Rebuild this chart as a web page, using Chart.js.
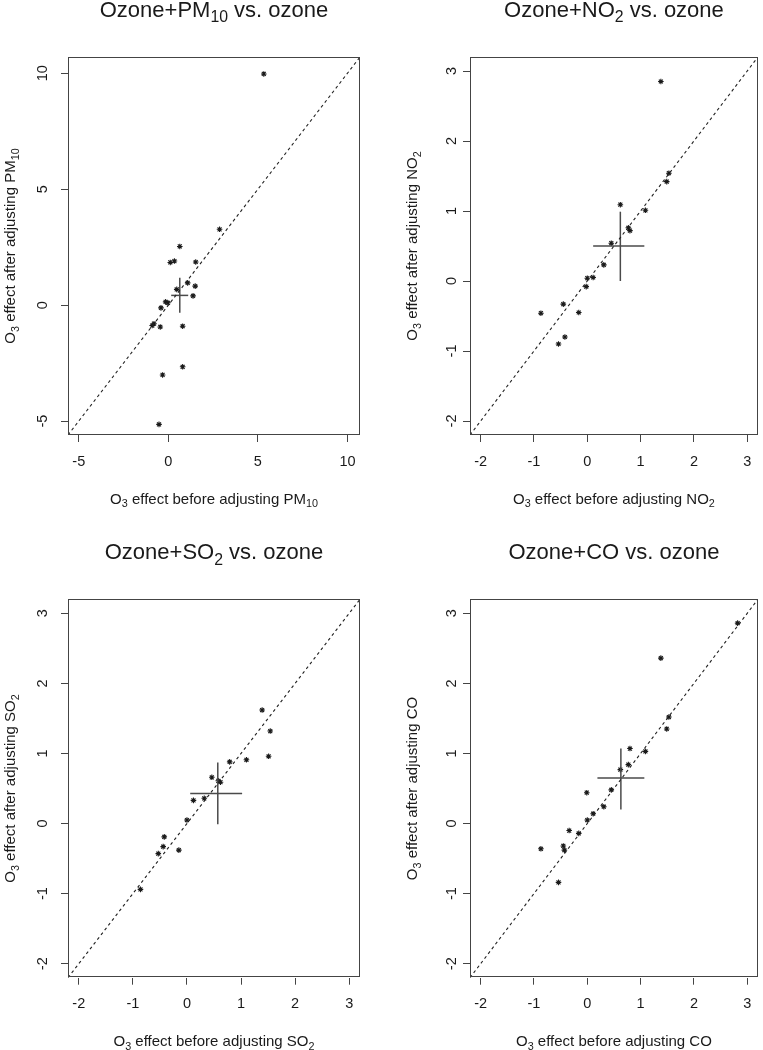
<!DOCTYPE html>
<html>
<head>
<meta charset="utf-8">
<script src="https://cdn.jsdelivr.net/npm/chart.js@4.4.1/dist/chart.umd.min.js"></script>
<style>
  html, body { margin: 0; padding: 0; background: #fff; }
  #wrap { position: relative; width: 763px; height: 1050px; overflow: hidden; }
  canvas { position: absolute; }
</style>
</head>
<body>
<div id="wrap">
  <canvas id="c-pm10" width="381" height="525" style="left:0;top:0"></canvas>
  <canvas id="c-no2" width="382" height="525" style="left:381px;top:0"></canvas>
  <canvas id="c-so2" width="381" height="525" style="left:0;top:525px"></canvas>
  <canvas id="c-co" width="382" height="525" style="left:381px;top:525px"></canvas>
</div>
<script>
// O3 effect before / after adjusting for the co-pollutant, one pair of arrays per panel
const pm10Before = [5.33, 2.86, 0.64, 0.11, 0.34, 1.53, 1.08, 1.50, 0.47, 1.38, -0.15, -0.02, -0.41, -0.90, -0.80, -0.45, 0.80, 0.80, -0.32, -0.52];
const pm10After  = [9.97, 3.27, 2.53, 1.84, 1.90, 1.86, 0.96, 0.82, 0.68, 0.40, 0.14, 0.10, -0.12, -0.88, -0.80, -0.94, -0.91, -2.66, -3.01, -5.14];

const no2Before = [1.38, 1.53, 1.49, 0.62, 1.09, 0.77, 0.80, 0.45, 0.31, 0.00, 0.11, -0.02, -0.45, -0.87, -0.16, -0.42, -0.54];
const no2After  = [2.85, 1.54, 1.42, 1.09, 1.01, 0.76, 0.72, 0.54, 0.23, 0.04, 0.05, -0.08, -0.33, -0.46, -0.45, -0.80, -0.90];

const so2Before = [1.39, 1.54, 1.51, 0.79, 1.10, 0.46, 0.62, 0.58, 0.32, 0.12, 0.00, -0.42, -0.44, -0.53, -0.15, -0.86];
const so2After  = [1.62, 1.32, 0.96, 0.88, 0.91, 0.66, 0.59, 0.61, 0.36, 0.33, 0.05, -0.19, -0.33, -0.43, -0.38, -0.94];

const coBefore = [2.82, 1.38, 1.53, 1.49, 0.80, 1.09, 0.77, 0.62, 0.45, -0.01, 0.31, 0.11, 0.00, -0.16, -0.34, -0.45, -0.43, -0.87, -0.54];
const coAfter  = [2.86, 2.36, 1.52, 1.35, 1.07, 1.03, 0.84, 0.77, 0.48, 0.44, 0.24, 0.14, 0.05, -0.14, -0.10, -0.32, -0.38, -0.36, -0.84];

// pooled estimate (x, y) and its intervals
const pm10Est = [0.64, 0.42], pm10XBar = [0.16, 1.11], pm10YBar = [-0.33, 1.18];
const no2Est  = [0.62, 0.50], no2XBar  = [0.11, 1.07], no2YBar  = [0.00, 0.99];
const so2Est  = [0.57, 0.43], so2XBar  = [0.06, 1.02], so2YBar  = [-0.01, 0.87];
const coEst   = [0.63, 0.65], coXBar   = [0.19, 1.07], coYBar   = [0.20, 1.07];

// axis limits and tick step
const pm10Lim = [-5.6, 10.7], pm10Step = 5;
const gasLim = [-2.2, 3.2], gasStep = 1;

const FONT = "'Liberation Sans', Arial, Helvetica, sans-serif";
const INK = '#1a1a1a';

// "PM_{10}" -> parts with subscript flag
function parseRich(s) {
  const parts = [];
  const re = /_\{([^}]*)\}/g;
  let last = 0, m;
  while ((m = re.exec(s))) {
    if (m.index > last) parts.push({ t: s.slice(last, m.index) });
    parts.push({ t: m[1], sub: true });
    last = re.lastIndex;
  }
  if (last < s.length) parts.push({ t: s.slice(last) });
  return parts;
}

function drawRich(ctx, text, x, y, size, rotate) {
  const parts = parseRich(text);
  ctx.save();
  ctx.translate(x, y);
  if (rotate) ctx.rotate(-Math.PI / 2);
  ctx.fillStyle = INK;
  ctx.textAlign = 'left';
  ctx.textBaseline = 'alphabetic';
  let w = 0;
  parts.forEach(p => { ctx.font = `${p.sub ? size * 0.72 : size}px ${FONT}`; w += ctx.measureText(p.t).width; });
  let cx = -w / 2;
  parts.forEach(p => {
    ctx.font = `${p.sub ? size * 0.72 : size}px ${FONT}`;
    ctx.fillText(p.t, cx, p.sub ? size * 0.24 : 0);
    cx += ctx.measureText(p.t).width;
  });
  ctx.restore();
}

const framePlugin = {
  id: 'frame',
  afterDraw(chart, args, opts) {
    const { ctx, chartArea: a } = chart;
    ctx.save();
    ctx.strokeStyle = '#444';
    ctx.lineWidth = 1;
    ctx.strokeRect(Math.round(a.left) + 0.5, Math.round(a.top) + 0.5,
      Math.round(a.right - a.left) - 1, Math.round(a.bottom - a.top) - 1);
    ctx.restore();

    // y tick labels, rotated like R's default
    const ys = chart.scales.y;
    ys.ticks.forEach(t => {
      drawRich(ctx, String(t.value), a.left - opts.yLabelGap, ys.getPixelForValue(t.value), 14.5, true);
    });

    const cxm = (a.left + a.right) / 2, cym = (a.top + a.bottom) / 2;
    drawRich(ctx, opts.title, cxm, a.top - 40, 22, false);
    drawRich(ctx, opts.xTitle, cxm, a.bottom + 68.5, 15, false);
    drawRich(ctx, opts.yTitle, a.left - opts.yTitleGap, cym, 15, true);
  },
};

function makePanel(id, cfg) {
  const canvas = document.getElementById(id);
  const W = canvas.width, H = canvas.height;
  const area = cfg.area;
  const pts = cfg.before.map((v, i) => ({ x: v, y: cfg.after[i] }));
  const [lo, hi] = cfg.lim;

  const lineDs = (data, extra) => Object.assign({
    data, showLine: true, pointRadius: 0, borderColor: '#4a4a4a', borderWidth: 1.5,
  }, extra);

  new Chart(canvas, {
    type: 'scatter',
    data: {
      datasets: [
        lineDs([{ x: lo, y: lo }, { x: hi, y: hi }], { borderColor: '#222', borderWidth: 1.1, borderDash: [3, 3] }),
        lineDs([{ x: cfg.xBar[0], y: cfg.est[1] }, { x: cfg.xBar[1], y: cfg.est[1] }]),
        lineDs([{ x: cfg.est[0], y: cfg.yBar[0] }, { x: cfg.est[0], y: cfg.yBar[1] }]),
        {
          data: pts,
          pointStyle: 'star',
          pointRadius: 2.8,
          borderColor: '#1a1a1a',
          backgroundColor: '#1a1a1a',
          borderWidth: 1.1,
        },
      ],
    },
    options: {
      responsive: false,
      animation: false,
      events: [],
      layout: { padding: { top: area.t, right: W - area.r, left: 0, bottom: 0 } },
      plugins: {
        legend: { display: false },
        tooltip: { enabled: false },
        frame: { title: cfg.title, xTitle: cfg.xTitle, yTitle: cfg.yTitle,
          yLabelGap: cfg.yLabelGap, yTitleGap: cfg.yTitleGap },
      },
      scales: {
        x: {
          type: 'linear', min: lo, max: hi,
          afterFit: s => { s.height = H - area.b; },
          border: { display: false },
          grid: { drawOnChartArea: false, drawTicks: true, tickLength: 7, color: '#444', lineWidth: 1 },
          ticks: { stepSize: cfg.step, includeBounds: false, color: INK, padding: 11,
            font: { family: FONT, size: 14.5 }, maxRotation: 0, callback: v => String(v) },
        },
        y: {
          type: 'linear', min: lo, max: hi,
          afterFit: s => { s.width = area.l; },
          border: { display: false },
          grid: { drawOnChartArea: false, drawTicks: true, tickLength: 7, color: '#444', lineWidth: 1 },
          ticks: { stepSize: cfg.step, includeBounds: false, display: false },
        },
      },
    },
    plugins: [framePlugin],
  });
}

makePanel('c-pm10', {
  before: pm10Before, after: pm10After, est: pm10Est, xBar: pm10XBar, yBar: pm10YBar,
  lim: pm10Lim, step: pm10Step, area: { l: 68, t: 57, r: 360, b: 435 }, yLabelGap: 21, yTitleGap: 53,
  title: 'Ozone+PM_{10} vs. ozone',
  xTitle: 'O_{3} effect before adjusting PM_{10}', yTitle: 'O_{3} effect after adjusting PM_{10}',
});
makePanel('c-no2', {
  before: no2Before, after: no2After, est: no2Est, xBar: no2XBar, yBar: no2YBar,
  lim: gasLim, step: gasStep, area: { l: 89, t: 57, r: 381, b: 435 }, yLabelGap: 14.5, yTitleGap: 53,
  title: 'Ozone+NO_{2} vs. ozone',
  xTitle: 'O_{3} effect before adjusting NO_{2}', yTitle: 'O_{3} effect after adjusting NO_{2}',
});
makePanel('c-so2', {
  before: so2Before, after: so2After, est: so2Est, xBar: so2XBar, yBar: so2YBar,
  lim: gasLim, step: gasStep, area: { l: 68, t: 74.3, r: 360, b: 452.7 }, yLabelGap: 21, yTitleGap: 53,
  title: 'Ozone+SO_{2} vs. ozone',
  xTitle: 'O_{3} effect before adjusting SO_{2}', yTitle: 'O_{3} effect after adjusting SO_{2}',
});
makePanel('c-co', {
  before: coBefore, after: coAfter, est: coEst, xBar: coXBar, yBar: coYBar,
  lim: gasLim, step: gasStep, area: { l: 89, t: 74.3, r: 381, b: 452.7 }, yLabelGap: 14.5, yTitleGap: 53,
  title: 'Ozone+CO vs. ozone',
  xTitle: 'O_{3} effect before adjusting CO', yTitle: 'O_{3} effect after adjusting CO',
});
</script>
</body>
</html>
